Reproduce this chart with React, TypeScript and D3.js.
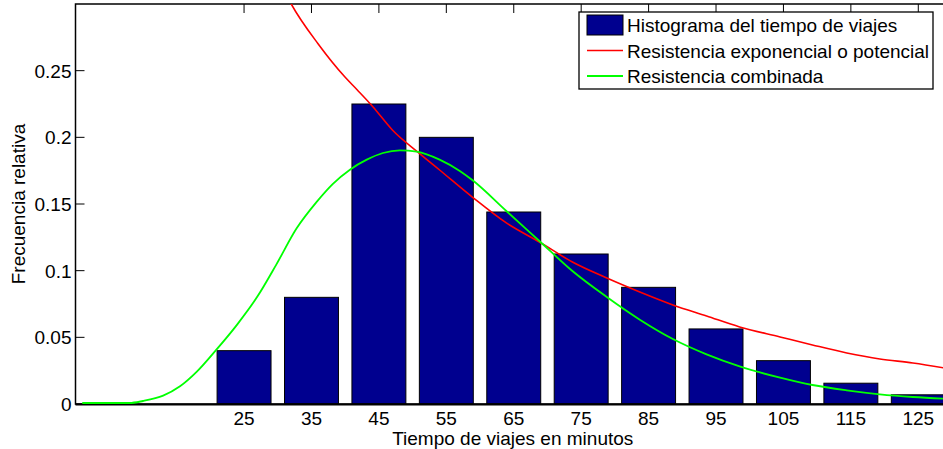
import React, { useEffect, useRef } from "react";
import * as d3 from "d3";

// histogram bins (minutes) and relative frequencies
const binCenters = [25, 35, 45, 55, 65, 75, 85, 95, 105, 115, 125];
const relFreq = [0.04, 0.08, 0.225, 0.2, 0.144, 0.1125, 0.0875, 0.0563, 0.0325, 0.0156, 0.0069];

// "Resistencia exponencial o potencial"
const expX = [30, 32, 36, 40, 41.8, 44.1, 47, 51, 54, 58.9, 63.9, 68.8, 73.7, 78.8, 83.7, 88.6, 93.6, 98.5, 104.5, 109.3, 114.4, 119.3, 124.2, 130];
const expY = [0.32, 0.3, 0.27, 0.245, 0.2355, 0.223, 0.2055, 0.188, 0.1755, 0.155, 0.1358, 0.1215, 0.1065, 0.0945, 0.084, 0.0743, 0.066, 0.0578, 0.0503, 0.0443, 0.0383, 0.0338, 0.0308, 0.026];

// "Resistencia combinada"
const combX = [1, 8, 10, 13, 15.5, 18, 20.9, 24, 27, 29.8, 32.8, 35.8, 38.1, 40.7, 43.2, 45.6, 48.1, 50.6, 54, 57, 58.9, 63.9, 68.8, 73.7, 78.8, 83.7, 88.6, 93.6, 98.5, 104.5, 109.3, 114.4, 119.3, 124.2, 130];
const combY = [0, 0, 0.0015, 0.0055, 0.0125, 0.0235, 0.04, 0.059, 0.08, 0.104, 0.131, 0.151, 0.164, 0.175, 0.1825, 0.1875, 0.1895, 0.1885, 0.1825, 0.174, 0.167, 0.144, 0.1215, 0.099, 0.0795, 0.0625, 0.048, 0.0365, 0.0275, 0.019, 0.0135, 0.0095, 0.0065, 0.0045, 0.003];

const yTicks = [0, 0.05, 0.1, 0.15, 0.2, 0.25];
const yTickLabels = ["0", "0.05", "0.1", "0.15", "0.2", "0.25"];
const legendLabels = [
  "Histograma del tiempo de viajes",
  "Resistencia exponencial o potencial",
  "Resistencia combinada",
];

const W = 943;
const H = 449;
const FONT = "'Liberation Sans', Arial, Helvetica, sans-serif";
const FS = 19;

export default function App() {
  const ref = useRef<SVGSVGElement | null>(null);

  useEffect(() => {
    const svg = d3.select(ref.current);
    svg.selectAll("*").remove();

    const left = 75.5;
    const right = 952;
    const top = 4;
    const bottom = 404;

    const x = d3.scaleLinear().domain([0, 130]).range([left, right]);
    const y = d3.scaleLinear().domain([0, 0.3]).range([bottom, top]);

    svg.append("rect").attr("width", W).attr("height", H).attr("fill", "#fff");

    svg
      .append("defs")
      .append("clipPath")
      .attr("id", "plotclip")
      .append("rect")
      .attr("x", left)
      .attr("y", top)
      .attr("width", right - left)
      .attr("height", bottom - top);

    // bars
    const barW = 8;
    svg
      .append("g")
      .selectAll("rect")
      .data(binCenters)
      .enter()
      .append("rect")
      .attr("x", (d) => x(d - barW / 2))
      .attr("y", (d, i) => y(relFreq[i]))
      .attr("width", (d) => x(d + barW / 2) - x(d - barW / 2))
      .attr("height", (d, i) => bottom - y(relFreq[i]))
      .attr("fill", "#00008F")
      .attr("stroke", "#000")
      .attr("stroke-width", 1);

    // axes box with inward ticks
    const axisG = svg.append("g").attr("stroke", "#000").attr("fill", "none");
    axisG
      .append("rect")
      .attr("x", left)
      .attr("y", top)
      .attr("width", right - left)
      .attr("height", bottom - top)
      .attr("stroke-width", 1.5);
    const tl = 9;
    yTicks.forEach((t) => {
      axisG.append("line").attr("x1", left).attr("x2", left + tl).attr("y1", y(t)).attr("y2", y(t));
      axisG.append("line").attr("x1", right).attr("x2", right - tl).attr("y1", y(t)).attr("y2", y(t));
    });
    binCenters.forEach((t) => {
      axisG.append("line").attr("x1", x(t)).attr("x2", x(t)).attr("y1", top).attr("y2", top + tl);
    });
    svg
      .append("line")
      .attr("x1", left)
      .attr("x2", right)
      .attr("y1", bottom + 0.5)
      .attr("y2", bottom + 0.5)
      .attr("stroke", "#000")
      .attr("stroke-width", 2);

    const line = d3.line<number>().curve(d3.curveMonotoneX);

    const curves = svg.append("g").attr("clip-path", "url(#plotclip)");
    curves
      .append("path")
      .attr("d", line.x((d) => x(d)).y((d, i) => y(expY[i]))(expX))
      .attr("fill", "none")
      .attr("stroke", "#FF0000")
      .attr("stroke-width", 1.6);
    curves
      .append("path")
      .attr("d", line.x((d) => x(d)).y((d, i) => y(combY[i]) - 1)(combX))
      .attr("fill", "none")
      .attr("stroke", "#00FF00")
      .attr("stroke-width", 1.8);

    // tick labels
    const txt = svg.append("g").attr("font-family", FONT).attr("font-size", FS).attr("fill", "#000");
    txt
      .selectAll("text.yt")
      .data(yTicks)
      .enter()
      .append("text")
      .attr("x", left - 4)
      .attr("y", (d) => y(d) + 7)
      .attr("text-anchor", "end")
      .text((d, i) => yTickLabels[i]);
    txt
      .selectAll("text.xt")
      .data(binCenters)
      .enter()
      .append("text")
      .attr("x", (d) => x(d))
      .attr("y", 425)
      .attr("text-anchor", "middle")
      .text((d) => String(d));

    txt
      .append("text")
      .attr("x", (left + right) / 2 - 1)
      .attr("y", 445)
      .attr("text-anchor", "middle")
      .text("Tiempo de viajes en minutos");
    txt
      .append("text")
      .attr("transform", `translate(25,${(top + bottom) / 2}) rotate(-90)`)
      .attr("text-anchor", "middle")
      .text("Frecuencia relativa");

    // legend
    const lg = svg.append("g");
    lg.append("rect")
      .attr("x", 579)
      .attr("y", 12)
      .attr("width", 354)
      .attr("height", 77)
      .attr("fill", "#fff")
      .attr("stroke", "#000")
      .attr("stroke-width", 1.3);
    const rowY = [25, 50.5, 76];
    lg.append("rect")
      .attr("x", 587)
      .attr("y", rowY[0] - 10)
      .attr("width", 36)
      .attr("height", 20)
      .attr("fill", "#00008F")
      .attr("stroke", "#000")
      .attr("stroke-width", 1);
    lg.append("line").attr("x1", 587).attr("x2", 623).attr("y1", rowY[1]).attr("y2", rowY[1]).attr("stroke", "#FF0000").attr("stroke-width", 1.6);
    lg.append("line").attr("x1", 587).attr("x2", 623).attr("y1", rowY[2]).attr("y2", rowY[2]).attr("stroke", "#00FF00").attr("stroke-width", 1.8);
    lg.selectAll("text")
      .data(legendLabels)
      .enter()
      .append("text")
      .attr("x", 627)
      .attr("y", (d, i) => rowY[i] + 7)
      .attr("font-family", FONT)
      .attr("font-size", FS)
      .text((d) => d);
  }, []);

  return (
    <svg
      ref={ref}
      width={W}
      height={H}
      style={{ position: "absolute", left: 0, top: 0, display: "block" }}
    />
  );
}
